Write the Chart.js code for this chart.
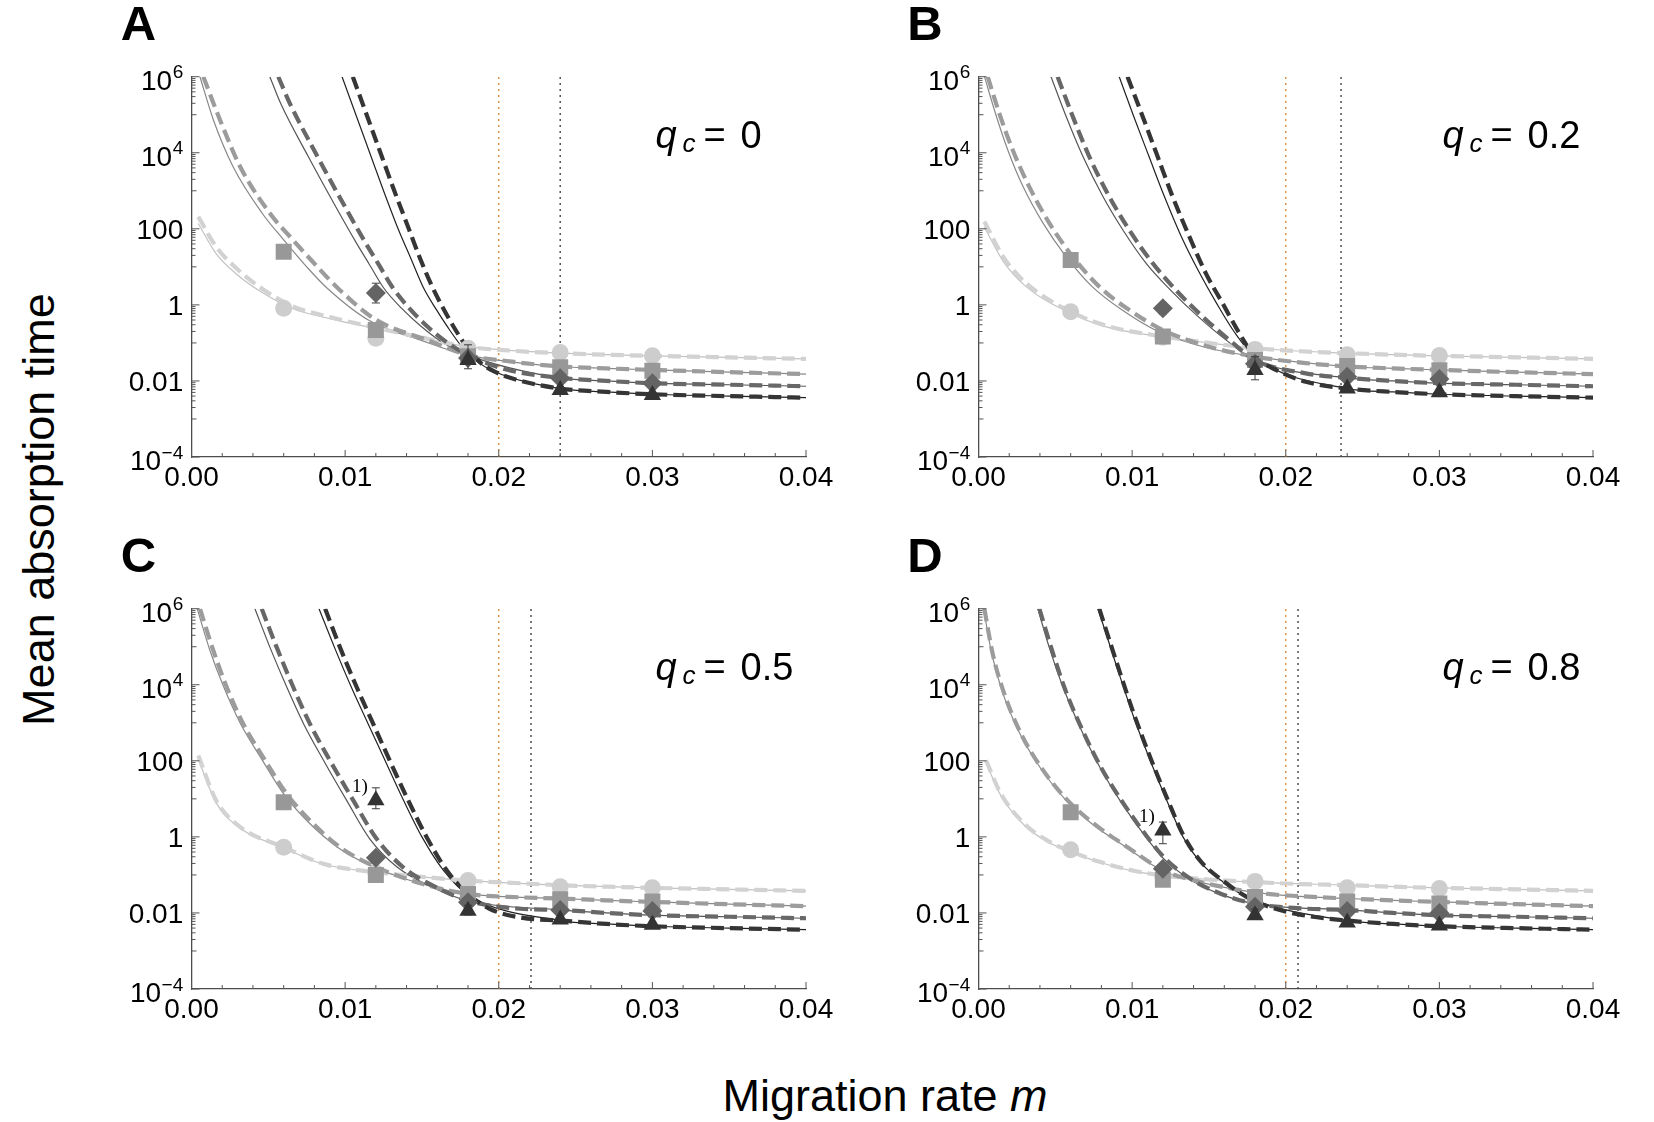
<!DOCTYPE html>
<html><head><meta charset="utf-8"><title>Mean absorption time vs migration rate</title>
<script src="https://cdn.jsdelivr.net/npm/chart.js@4.4.1/dist/chart.umd.min.js"></script>
<style>
html,body{margin:0;padding:0;background:#fff;}
body{width:1654px;height:1122px;position:relative;overflow:hidden;font-family:"Liberation Sans",Arial,Helvetica,sans-serif;color:#000;}
canvas{position:absolute;}
.letter{position:absolute;font-weight:bold;font-size:49px;line-height:49px;white-space:nowrap;}
.xtitle{position:absolute;left:485px;width:800px;top:1073px;text-align:center;font-size:45px;line-height:45px;white-space:nowrap;}
.ytitle{position:absolute;left:-212.5px;width:500px;top:486.5px;text-align:center;font-size:45px;line-height:45px;white-space:nowrap;transform:rotate(-90deg);transform-origin:50% 50%;}
</style></head>
<body>
<div class="letter" style="left:120.7px;top:-0.8px">A</div>
<div class="letter" style="left:907.2px;top:-0.8px">B</div>
<div class="letter" style="left:120.7px;top:530.8px">C</div>
<div class="letter" style="left:907.2px;top:530.8px">D</div>
<canvas id="c0" width="740" height="460" style="left:100px;top:40px"></canvas>
<canvas id="c1" width="740" height="460" style="left:886.5px;top:40px"></canvas>
<canvas id="c2" width="740" height="460" style="left:100px;top:571.6px"></canvas>
<canvas id="c3" width="740" height="460" style="left:886.5px;top:571.6px"></canvas>
<div class="ytitle">Mean absorption time</div>
<div class="xtitle">Migration rate <i>m</i></div>
<script>
// ---------- axis / label data ----------
const xTickValues = [0, 0.01, 0.02, 0.03, 0.04];
const xTickLabels = ['0.00', '0.01', '0.02', '0.03', '0.04'];
const yTickValues = [1e-4, 1e-2, 1, 1e2, 1e4, 1e6];
const yTickBase = ['10', '0.01', '1', '100', '10', '10'];
const yTickExp = ['\u22124', '', '', '', '4', '6'];
const qcValues = ['0', '0.2', '0.5', '0.8'];
const thresholdOrange = [0.02, 0.02, 0.02, 0.02];
const thresholdDark = [0.024, 0.0236, 0.0221, 0.0208];
const markerX = [0.006, 0.012, 0.018, 0.024, 0.030];
const noteText = '1)';

// ---------- curves: [m, log10(mean absorption time)] ----------
const tailX = [0.024, 0.027, 0.030, 0.035, 0.040];
const tailLight = [-1.27, -1.31, -1.34, -1.38, -1.42];
const tailGray = [-1.62, -1.67, -1.71, -1.77, -1.82];
const tailDark = [-1.92, -2.0, -2.06, -2.1, -2.14];
const tailBlack = [-2.2, -2.29, -2.35, -2.4, -2.44];

const A_lightDash = [[0.00044,2.32],[0.0016,1.53],[0.0029,0.97],[0.0045,0.45],[0.0066,-0.04],[0.009,-0.32],[0.012,-0.6],[0.015,-0.86],[0.018,-1.1],[0.021,-1.21]];
const A_lightSolid = [[0.00044,2.14],[0.0016,1.35],[0.0029,0.82],[0.0045,0.35],[0.0066,-0.1],[0.009,-0.36],[0.012,-0.62],[0.015,-0.87],[0.018,-1.1]];
const A_grayDash = [[0.00077,6.0],[0.00185,4.87],[0.00316,3.64],[0.0051,2.41],[0.0066,1.71],[0.0082,1.0],[0.0095,0.45],[0.012,-0.39],[0.0153,-0.92],[0.018,-1.32],[0.021,-1.5]];
const A_graySolid = [[0.00055,6.0],[0.00142,4.87],[0.0027,3.64],[0.0046,2.41],[0.006,1.71],[0.0075,1.0],[0.0088,0.45],[0.0116,-0.42],[0.015,-0.94],[0.018,-1.32]];
const A_darkDash = [[0.00565,6.0],[0.0064,5.3],[0.0082,3.9],[0.0101,2.5],[0.0113,1.65],[0.0122,1.05],[0.0131,0.45],[0.0142,-0.1],[0.0153,-0.55],[0.0165,-0.95],[0.018,-1.32],[0.0205,-1.7]];
const A_darkSolid = [[0.0051,6.0],[0.0058,5.3],[0.0076,3.9],[0.0095,2.5],[0.0107,1.65],[0.0116,1.05],[0.0125,0.45],[0.0137,-0.1],[0.0149,-0.55],[0.0162,-0.95],[0.018,-1.32]];
const A_blackDash = [[0.0105,6.0],[0.0114,5.0],[0.0123,4.0],[0.0132,3.0],[0.0141,2.05],[0.0149,1.2],[0.0157,0.45],[0.0164,-0.1],[0.0171,-0.6],[0.0179,-1.1],[0.0187,-1.48],[0.0197,-1.75],[0.021,-1.95]];
const A_blackSolid = [[0.0098,6.0],[0.0107,5.0],[0.0116,4.0],[0.0125,3.0],[0.0134,2.05],[0.0143,1.2],[0.0151,0.45],[0.0159,-0.1],[0.0167,-0.6],[0.0176,-1.1],[0.0185,-1.46],[0.0197,-1.75]];

const B_lightDash = [[0.00038,2.19],[0.0016,1.27],[0.0031,0.57],[0.006,-0.18],[0.0085,-0.57],[0.012,-0.83],[0.015,-1.0],[0.018,-1.14],[0.021,-1.22]];
const B_lightSolid = [[0.00038,2.05],[0.0016,1.15],[0.0031,0.48],[0.006,-0.22],[0.0085,-0.6],[0.012,-0.84],[0.015,-1.0],[0.018,-1.14]];
const B_grayDash = [[0.0006,6.0],[0.00135,5.04],[0.00222,4.08],[0.0033,3.11],[0.00461,2.15],[0.00613,1.27],[0.00786,0.48],[0.0098,-0.13],[0.012,-0.66],[0.015,-1.1],[0.018,-1.36],[0.0213,-1.53]];
const B_graySolid = [[0.00039,6.0],[0.0011,5.04],[0.0019,4.08],[0.0029,3.11],[0.0042,2.15],[0.0057,1.27],[0.0074,0.48],[0.0094,-0.15],[0.0117,-0.7],[0.0148,-1.12],[0.018,-1.36]];
const B_darkDash = [[0.00515,6.0],[0.00613,4.96],[0.00721,3.9],[0.00851,2.85],[0.00981,1.97],[0.01133,1.1],[0.01285,0.39],[0.01459,-0.31],[0.01632,-0.92],[0.018,-1.45],[0.0213,-1.8]];
const B_darkSolid = [[0.00472,6.0],[0.0057,4.96],[0.0068,3.9],[0.0081,2.85],[0.0094,1.97],[0.0109,1.1],[0.0125,0.39],[0.0143,-0.31],[0.0161,-0.92],[0.018,-1.45]];
const B_blackDash = [[0.0097,6.0],[0.01068,4.96],[0.01166,3.9],[0.01263,2.85],[0.01372,1.8],[0.0148,0.83],[0.01589,0.04],[0.01697,-0.74],[0.018,-1.36],[0.01936,-1.71],[0.0213,-2.02]];
const B_blackSolid = [[0.00916,6.0],[0.0101,4.96],[0.0111,3.9],[0.0121,2.85],[0.0132,1.8],[0.0144,0.83],[0.0155,0.04],[0.0167,-0.74],[0.018,-1.37]];

const C_lightDash = [[0.00044,2.14],[0.0016,0.96],[0.0032,0.25],[0.006,-0.27],[0.0086,-0.71],[0.012,-0.93],[0.015,-1.05],[0.018,-1.15],[0.0214,-1.22]];
const C_lightSolid = [[0.00044,2.05],[0.0016,0.9],[0.0032,0.22],[0.006,-0.29],[0.0086,-0.72],[0.012,-0.93],[0.015,-1.05],[0.018,-1.15]];
const C_grayDash = [[0.00055,6.0],[0.00142,4.9],[0.00229,3.94],[0.00337,2.97],[0.00467,2.09],[0.0062,1.13],[0.00771,0.43],[0.00966,-0.27],[0.01205,-0.8],[0.01508,-1.24],[0.018,-1.5],[0.0214,-1.59]];
const C_graySolid = [[0.00037,6.0],[0.0012,4.9],[0.0021,3.94],[0.0032,2.97],[0.0045,2.09],[0.006,1.13],[0.0075,0.43],[0.0095,-0.27],[0.0119,-0.8],[0.015,-1.24],[0.018,-1.5]];
const C_darkDash = [[0.00457,6.0],[0.00554,4.99],[0.00662,3.94],[0.00771,2.97],[0.00901,2.01],[0.01053,0.96],[0.01205,-0.05],[0.01378,-0.8],[0.01595,-1.33],[0.018,-1.68],[0.0214,-1.89]];
const C_darkSolid = [[0.00413,6.0],[0.0051,4.99],[0.0062,3.94],[0.0073,2.97],[0.0086,2.01],[0.0101,0.96],[0.0116,-0.05],[0.0134,-0.8],[0.0157,-1.33],[0.018,-1.68]];
const C_blackDash = [[0.0087,6.0],[0.00966,4.99],[0.01075,3.94],[0.01183,2.97],[0.0129,2.01],[0.014,1.05],[0.0153,0.0],[0.01661,-0.88],[0.018,-1.5],[0.0194,-1.89],[0.0214,-2.12]];
const C_blackSolid = [[0.0083,6.0],[0.0093,4.99],[0.0104,3.94],[0.0115,2.97],[0.0126,2.01],[0.0137,1.05],[0.015,0.0],[0.0164,-0.88],[0.018,-1.52]];

const D_lightDash = [[0.00049,2.01],[0.00146,1.13],[0.003,0.34],[0.0045,-0.1],[0.006,-0.38],[0.008,-0.67],[0.0101,-0.89],[0.0121,-1.02],[0.015,-1.12],[0.018,-1.19],[0.021,-1.24]];
const D_lightSolid = [[0.00049,1.95],[0.00146,1.08],[0.003,0.3],[0.0045,-0.13],[0.006,-0.4],[0.008,-0.68],[0.0101,-0.9],[0.0121,-1.02],[0.015,-1.12],[0.018,-1.19]];
const D_grayDash = [[0.00038,6.0],[0.00092,4.82],[0.00168,3.76],[0.00277,2.71],[0.00407,1.83],[0.0058,0.96],[0.00753,0.34],[0.0097,-0.27],[0.01209,-0.89],[0.01448,-1.19],[0.0188,-1.5],[0.021,-1.56]];
const D_graySolid = [[0.00033,6.0],[0.00086,4.82],[0.0016,3.76],[0.0027,2.71],[0.004,1.83],[0.0057,0.96],[0.0074,0.34],[0.0096,-0.27],[0.012,-0.89],[0.0144,-1.19],[0.0188,-1.5]];
const D_darkDash = [[0.00396,6.0],[0.00472,4.99],[0.00558,3.94],[0.00667,2.89],[0.00797,1.83],[0.0094,0.9],[0.0108,0.1],[0.0121,-0.55],[0.0138,-1.1],[0.0158,-1.5],[0.018,-1.76],[0.021,-1.88]];
const D_darkSolid = [[0.00386,6.0],[0.0046,4.99],[0.0055,3.94],[0.0066,2.89],[0.0079,1.83],[0.0093,0.9],[0.0107,0.1],[0.012,-0.55],[0.0137,-1.1],[0.0157,-1.5],[0.018,-1.76]];
const D_blackDash = [[0.00786,6.0],[0.00906,4.5],[0.01014,3.2],[0.01122,2.05],[0.01231,0.98],[0.01339,0.0],[0.01448,-0.65],[0.016,-1.18],[0.01751,-1.59],[0.019,-1.85],[0.021,-2.05]];
const D_blackSolid = [[0.00778,6.0],[0.00898,4.5],[0.01006,3.2],[0.01114,2.05],[0.01223,0.98],[0.01331,0.0],[0.0144,-0.65],[0.0159,-1.18],[0.0175,-1.59]];

// ---------- simulation markers: log10 values at markerX ----------
const A_circle = [-0.09, -0.88, -1.14, -1.25, -1.34];
const A_square = [1.40, -0.66, -1.35, -1.64, -1.73];
const A_diamond = [null, 0.31, -1.40, -1.93, -2.06];
const A_triangle = [null, null, -1.45, -2.24, -2.37];
const B_circle = [-0.18, -0.85, -1.17, -1.31, -1.33];
const B_square = [1.18, -0.83, -1.45, -1.61, -1.72];
const B_diamond = [null, -0.09, -1.55, -1.89, -1.95];
const B_triangle = [null, null, -1.71, -2.2, -2.3];
const C_circle = [-0.27, -0.95, -1.15, -1.31, -1.34];
const C_square = [0.91, -1.0, -1.5, -1.64, -1.70];
const C_diamond = [null, -0.55, -1.72, -1.92, -1.95];
const C_triangle = [null, 0.96, -1.94, -2.17, -2.31];
const D_circle = [-0.34, -1.05, -1.17, -1.34, -1.36];
const D_square = [0.65, -1.13, -1.58, -1.70, -1.75];
const D_diamond = [null, -0.84, -1.84, -1.95, -2.0];
const D_triangle = [null, 0.17, -2.06, -2.25, -2.33];

// error bars: [series (0 circle,1 square,2 diamond,3 triangle), marker index, low log10, high log10]
const A_err = [[1,0,1.33,1.47],[2,1,0.05,0.57],[1,1,-0.78,-0.56],[3,2,-1.68,-1.05]];
const B_err = [[1,0,1.06,1.28],[2,1,-0.24,0.02],[3,2,-1.97,-1.36]];
const C_err = [[1,0,0.82,1.0],[3,1,0.74,1.29],[1,1,-1.1,-0.88],[3,2,-2.05,-1.8]];
const D_err = [[1,0,0.56,0.74],[3,1,-0.18,0.39],[1,1,-1.25,-1.02],[3,2,-2.15,-1.9]];
// "1)" note attached to [series, marker index]
const notes = [null, null, [3,1], [3,1]];

// ---------- grouping per panel ----------
const lightDash = [A_lightDash, B_lightDash, C_lightDash, D_lightDash];
const lightSolid = [A_lightSolid, B_lightSolid, C_lightSolid, D_lightSolid];
const grayDash = [A_grayDash, B_grayDash, C_grayDash, D_grayDash];
const graySolid = [A_graySolid, B_graySolid, C_graySolid, D_graySolid];
const darkDash = [A_darkDash, B_darkDash, C_darkDash, D_darkDash];
const darkSolid = [A_darkSolid, B_darkSolid, C_darkSolid, D_darkSolid];
const blackDash = [A_blackDash, B_blackDash, C_blackDash, D_blackDash];
const blackSolid = [A_blackSolid, B_blackSolid, C_blackSolid, D_blackSolid];
const circles = [A_circle, B_circle, C_circle, D_circle];
const squares = [A_square, B_square, C_square, D_square];
const diamonds = [A_diamond, B_diamond, C_diamond, D_diamond];
const triangles = [A_triangle, B_triangle, C_triangle, D_triangle];
const errs = [A_err, B_err, C_err, D_err];

// ---------- styles ----------
const FONT = '"Liberation Sans", Arial, Helvetica, sans-serif';
const SERIES = [
  {dash: lightDash, solid: lightSolid, tail: tailLight, marks: circles, line: '#d2d2d2', thin: '#c2c2c2', mark: '#cdcdcd', style: 'circle', r: 8.5},
  {dash: grayDash, solid: graySolid, tail: tailGray, marks: squares, line: '#9c9c9c', thin: '#888888', mark: '#989898', style: 'rect', r: 11.3},
  {dash: darkDash, solid: darkSolid, tail: tailDark, marks: diamonds, line: '#686868', thin: '#555555', mark: '#646464', style: 'rectRot', r: 10},
  {dash: blackDash, solid: blackSolid, tail: tailBlack, marks: triangles, line: '#353535', thin: '#222222', mark: '#333333', style: 'triangle', r: 10}
];

function withTail(head, tail) { return head.concat(tailX.map((x, i) => [x, tail[i]])); }
function toPts(pairs) { return pairs.map(([x, l]) => ({x: x, y: Math.pow(10, l)})); }

const deco = {
  id: 'deco',
  beforeDatasetDraw(chart, args, opts) {
    // error bars drawn just beneath their marker dataset
    const p = opts.panel;
    const s = chart.data.datasets[args.index].seriesIndex;
    if (s === undefined) return;
    const ctx = chart.ctx, xs = chart.scales.x, ys = chart.scales.y;
    ctx.save();
    ctx.strokeStyle = '#3c3c3c'; ctx.lineWidth = 1;
    errs[p].filter(e => e[0] === s).forEach(([ss, k, lo, hi]) => {
      const x = xs.getPixelForValue(markerX[k]);
      const y1 = ys.getPixelForValue(Math.pow(10, lo)), y2 = ys.getPixelForValue(Math.pow(10, hi));
      ctx.beginPath();
      ctx.moveTo(x, y1); ctx.lineTo(x, y2);
      ctx.moveTo(x - 4, y1); ctx.lineTo(x + 4, y1);
      ctx.moveTo(x - 4, y2); ctx.lineTo(x + 4, y2);
      ctx.stroke();
    });
    ctx.restore();
  },
  afterDraw(chart, args, opts) {
    const p = opts.panel;
    const ctx = chart.ctx, ca = chart.chartArea, xs = chart.scales.x, ys = chart.scales.y;
    ctx.save();
    // note
    if (notes[p]) {
      const [s, k] = notes[p];
      const x = xs.getPixelForValue(markerX[k]);
      const y = ys.getPixelForValue(Math.pow(10, SERIES[s].marks[p][k]));
      ctx.fillStyle = '#000'; ctx.font = '19px "Liberation Serif", "Times New Roman", serif';
      ctx.textAlign = 'right'; ctx.textBaseline = 'alphabetic';
      ctx.fillText(noteText, x - 8, y - 8);
    }
    // inward tick marks
    ctx.strokeStyle = '#555'; ctx.lineWidth = 1;
    ctx.beginPath();
    for (let n = -4; n <= 6; n++) {
      const y = ys.getPixelForValue(Math.pow(10, n));
      const even = (n % 2 === 0);
      ctx.moveTo(ca.left, y); ctx.lineTo(ca.left + (even ? 8 : 5), y);
      if (even && n > -4) {
        for (let k = 2; k <= 9; k++) {
          const yy = ys.getPixelForValue(k * Math.pow(10, n - 1));
          ctx.moveTo(ca.left, yy); ctx.lineTo(ca.left + 4, yy);
        }
      }
    }
    for (let i = 0; i <= 20; i++) {
      const x = xs.getPixelForValue(i * 0.002);
      ctx.moveTo(x, ca.bottom); ctx.lineTo(x, ca.bottom - (i % 5 === 0 ? 7 : 4));
    }
    ctx.stroke();
    // y tick labels with superscripts
    ctx.fillStyle = '#000'; ctx.textAlign = 'right'; ctx.textBaseline = 'alphabetic';
    yTickValues.forEach((v, i) => {
      const y = ys.getPixelForValue(v);
      const xr = ca.left - 8.3;
      if (yTickExp[i]) {
        ctx.font = '19px ' + FONT;
        ctx.fillText(yTickExp[i], xr, y + 1.5);
        const ew = ctx.measureText(yTickExp[i]).width;
        ctx.font = '28px ' + FONT;
        ctx.fillText(yTickBase[i], xr - ew - 0.5, y + 13);
      } else {
        ctx.font = '28px ' + FONT;
        ctx.fillText(yTickBase[i], xr, y + 10);
      }
    });
    // q_c label
    const x0 = ca.left + 464, yb = ca.top + 71;
    ctx.textAlign = 'left';
    ctx.font = 'italic 38px ' + FONT; ctx.fillText('q', x0, yb);
    ctx.font = 'italic 26px ' + FONT; ctx.fillText('c', x0 + 27, yb + 4);
    ctx.font = '38px ' + FONT; ctx.fillText('=', x0 + 48, yb); ctx.fillText(qcValues[p], x0 + 85, yb);
    ctx.restore();
  }
};

function makeChart(p) {
  const datasets = [];
  SERIES.forEach((s, i) => {
    datasets.push({
      seriesIndex: i,
      data: toPts(s.marks[p].map((v, k) => v === null ? null : [markerX[k], v]).filter(Boolean)),
      showLine: false, pointStyle: s.style, pointRadius: s.r, pointBackgroundColor: s.mark,
      pointBorderWidth: 0, pointBorderColor: s.mark, order: 3 - i
    });
    datasets.push({
      data: toPts(withTail(s.dash[p], s.tail)), borderColor: s.line, borderWidth: 4.2,
      borderDash: [13, 6], pointRadius: 0, fill: false, cubicInterpolationMode: 'monotone', order: 10 + (3 - i)
    });
    datasets.push({
      data: toPts(withTail(s.solid[p], s.tail)), borderColor: s.thin, borderWidth: 1.2,
      pointRadius: 0, fill: false, cubicInterpolationMode: 'monotone', order: 20 + (3 - i)
    });
  });
  datasets.push({data: [{x: thresholdOrange[p], y: 1e-4}, {x: thresholdOrange[p], y: 1e6}], borderColor: '#e08a3a',
    borderWidth: 1.4, borderDash: [2, 4], pointRadius: 0, order: 30});
  datasets.push({data: [{x: thresholdDark[p], y: 1e-4}, {x: thresholdDark[p], y: 1e6}], borderColor: '#444',
    borderWidth: 1.4, borderDash: [2, 4], pointRadius: 0, order: 31});

  new Chart(document.getElementById('c' + p), {
    type: 'line',
    data: {datasets},
    plugins: [deco],
    options: {
      responsive: false, animation: false, devicePixelRatio: 1, parsing: true,
      layout: {padding: {top: 36.7, right: 34, bottom: 0, left: 0}},
      plugins: {legend: {display: false}, tooltip: {enabled: false}, deco: {panel: p}},
      scales: {
        x: {
          type: 'linear', min: 0, max: 0.04,
          afterBuildTicks: sc => { sc.ticks = xTickValues.map(v => ({value: v})); },
          afterFit: sc => { sc.height = 43; },
          grid: {display: false}, border: {display: true, color: '#4d4d4d', width: 1.3},
          ticks: {callback: (v, i) => xTickLabels[i], font: {size: 28, family: FONT}, color: '#000',
                  padding: -4, maxRotation: 0, autoSkip: false}
        },
        y: {
          type: 'logarithmic', min: 1e-4, max: 1e6,
          afterBuildTicks: sc => { sc.ticks = yTickValues.map(v => ({value: v})); },
          afterFit: sc => { sc.width = 91.5; },
          grid: {display: false}, border: {display: true, color: '#4d4d4d', width: 1.3},
          ticks: {display: false}
        }
      }
    }
  });
}
[0, 1, 2, 3].forEach(makeChart);
</script>
</body></html>
